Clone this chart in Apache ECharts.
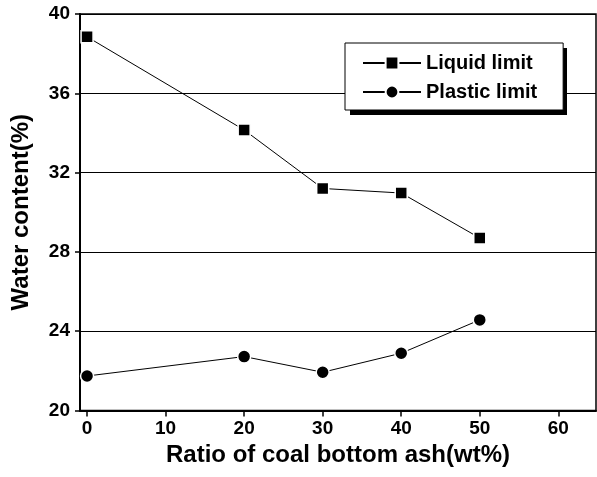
<!DOCTYPE html>
<html>
<head>
<meta charset="utf-8">
<script src="https://cdn.jsdelivr.net/npm/echarts@6/dist/echarts.min.js"></script>
<style>html,body{margin:0;padding:0;background:#fff}#c{width:597px;height:477px}</style>
</head>
<body>
<div id="c"></div>
<script>
const ratios = [0, 20, 30, 40, 50];
const liquidLimit = [38.85, 34.15, 31.2, 30.97, 28.7];
const plasticLimit = [21.74, 22.72, 21.93, 22.89, 24.57];
const xTicks = [0, 10, 20, 30, 40, 50, 60];
const seriesNames = ['Liquid limit', 'Plastic limit'];

const font = 'Liberation Sans, Arial, sans-serif';
const chart = echarts.init(document.getElementById('c'), null, {renderer: 'canvas'});
chart.setOption({
  animation: false,
  backgroundColor: '#fff',
  grid: {left: 80, top: 14, right: 1, bottom: 66.5, show: true, borderColor: '#000', borderWidth: 1.5, containLabel: false},
  graphic: [{
    type: 'rect', left: 350, top: 48, shape: {width: 217, height: 67}, style: {fill: '#000'}, z: 0
  }],
  legend: {
    data: seriesNames,
    orient: 'vertical',
    left: 345, top: 43,
    padding: [10, 26, 8, 17],
    itemGap: 9,
    itemWidth: 58, itemHeight: 16,
    backgroundColor: '#fff',
    borderColor: '#000', borderWidth: 1,
    textStyle: {fontFamily: font, fontWeight: 'bold', fontSize: 20, lineHeight: 20, color: '#000'},
    z: 5
  },
  xAxis: {
    type: 'value', min: -0.9, max: 64.8,
    name: 'Ratio of coal bottom ash(wt%)', nameLocation: 'middle', nameGap: 29,
    nameTextStyle: {fontFamily: font, fontWeight: 'bold', fontSize: 24, color: '#000'},
    axisLine: {show: true, onZero: false, lineStyle: {color: '#000', width: 2}},
    axisTick: {show: true, inside: false, length: 6, customValues: xTicks, lineStyle: {color: '#000', width: 1.5}},
    axisLabel: {customValues: xTicks, margin: 9, fontFamily: font, fontWeight: 'bold', fontSize: 19, color: '#000'},
    splitLine: {show: false}
  },
  yAxis: {
    type: 'value', min: 20, max: 40, interval: 4,
    name: 'Water content(%)', nameLocation: 'middle', nameGap: 47,
    nameTextStyle: {fontFamily: font, fontWeight: 'bold', fontSize: 24, color: '#000'},
    axisLine: {show: true, onZero: false, lineStyle: {color: '#000', width: 2}},
    axisTick: {show: true, inside: false, length: 5, lineStyle: {color: '#000', width: 1.5}},
    axisLabel: {margin: 10, fontFamily: font, fontWeight: 'bold', fontSize: 19, color: '#000'},
    splitLine: {show: true, lineStyle: {color: '#000', width: 1}}
  },
  series: [
    {
      name: seriesNames[0], type: 'line',
      data: ratios.map((x, i) => [x, liquidLimit[i]]),
      symbol: 'rect', symbolSize: 12,
      lineStyle: {color: '#000', width: 1},
      itemStyle: {color: '#000', borderColor: '#fff', borderWidth: 1.5},
      z: 3
    },
    {
      name: seriesNames[1], type: 'line',
      data: ratios.map((x, i) => [x, plasticLimit[i]]),
      symbol: 'circle', symbolSize: 13,
      lineStyle: {color: '#000', width: 1},
      itemStyle: {color: '#000', borderColor: '#fff', borderWidth: 1.5},
      z: 3
    }
  ]
});
</script>
</body>
</html>
